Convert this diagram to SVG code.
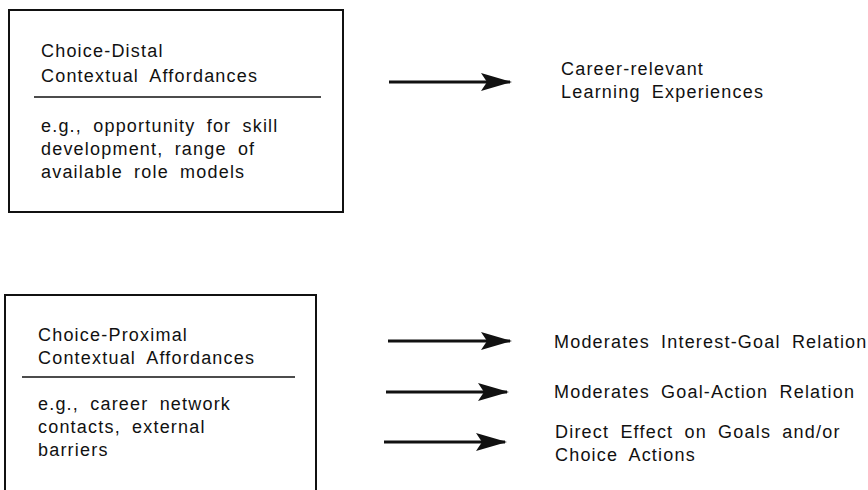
<svg xmlns="http://www.w3.org/2000/svg" width="868" height="490" viewBox="0 0 868 490">
<style>
  .t { font-family: "Liberation Sans", Arial, sans-serif; font-size: 18px; letter-spacing: 1.2px; word-spacing: 5px; fill: #111; }
  .box { fill: none; stroke: #111; stroke-width: 2; }
  .sep { stroke: #111; stroke-width: 1.6; }
  .arr { stroke: #111; stroke-width: 3; fill: none; }
</style>
<defs>
  <marker id="ah" markerUnits="userSpaceOnUse" markerWidth="36" markerHeight="22" viewBox="-32 -11 36 22" refX="0" refY="0" orient="auto">
    <path d="M2,0 L-29,-9 Q-25,-3 -23,0 Q-25,3 -29,9 Z" fill="#111"/>
  </marker>
</defs>
<g id="node-distal">
  <rect class="box" x="9" y="10" width="334" height="202"/>
  <text class="t" x="41" y="57">Choice-Distal</text>
  <text class="t" x="41" y="82">Contextual Affordances</text>
  <line class="sep" x1="34" y1="97" x2="321" y2="97"/>
  <text class="t" x="41" y="132">e.g., opportunity for skill</text>
  <text class="t" x="41" y="155">development, range of</text>
  <text class="t" x="41" y="178">available role models</text>
</g>
<g id="node-proximal">
  <path class="box" d="M5,490 V295 H316 V490"/>
  <text class="t" x="38" y="341">Choice-Proximal</text>
  <text class="t" x="38" y="364">Contextual Affordances</text>
  <line class="sep" x1="22" y1="377" x2="295" y2="377"/>
  <text class="t" x="38" y="410">e.g., career network</text>
  <text class="t" x="38" y="433">contacts, external</text>
  <text class="t" x="38" y="456">barriers</text>
</g>
<g id="node-learning">
  <text class="t" x="561" y="75">Career-relevant</text>
  <text class="t" x="561" y="98">Learning Experiences</text>
</g>
<g id="node-interest-goal">
  <text class="t" x="554" y="348">Moderates Interest-Goal Relation</text>
</g>
<g id="node-goal-action">
  <text class="t" x="554" y="398">Moderates Goal-Action Relation</text>
</g>
<g id="node-direct">
  <text class="t" x="555" y="438">Direct Effect on Goals and/or</text>
  <text class="t" x="555" y="461">Choice Actions</text>
</g>
<g id="connectors">
  <line class="arr" x1="389" y1="82" x2="510" y2="82" marker-end="url(#ah)"/>
  <line class="arr" x1="388" y1="341" x2="510" y2="341" marker-end="url(#ah)"/>
  <line class="arr" x1="386" y1="392" x2="507" y2="392" marker-end="url(#ah)"/>
  <line class="arr" x1="384" y1="442" x2="505" y2="442" marker-end="url(#ah)"/>
</g>
</svg>
